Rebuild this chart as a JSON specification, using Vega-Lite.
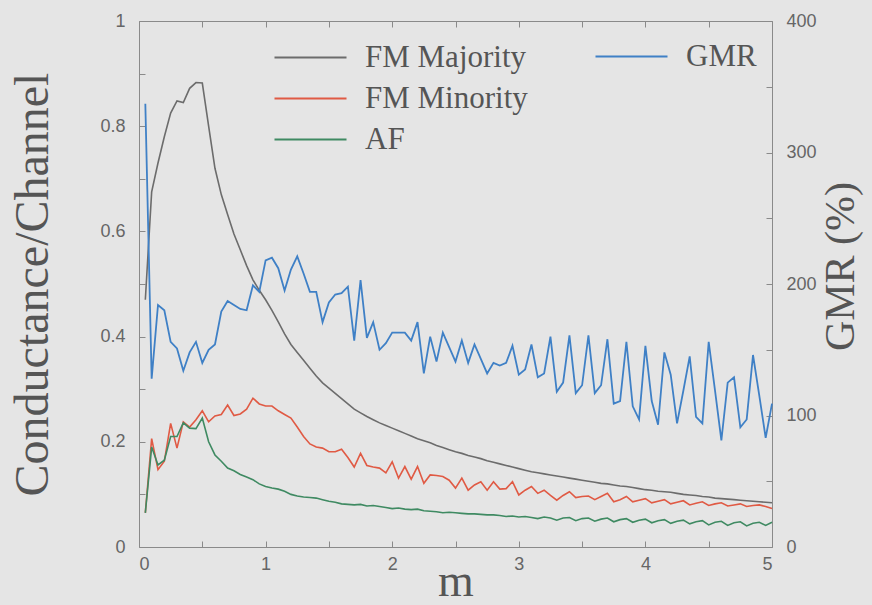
{
  "$schema": "https://vega.github.io/schema/vega-lite/v6.json",
  "width": 633,
  "height": 526,
  "autosize": {"type": "none"},
  "padding": {"left": 139, "top": 21, "right": 100, "bottom": 58},
  "background": "#e5e5e5",
  "config": {
    "view": {"stroke": "#8a8a8a", "strokeWidth": 1},
    "axis": {
      "domain": false,
      "grid": false,
      "tickColor": "#8a8a8a",
      "tickSize": -6,
      "labelFont": "Liberation Sans",
      "labelFontSize": 18,
      "labelColor": "#666666",
      "titleFont": "Liberation Serif",
      "titleFontSize": 48,
      "titleColor": "#555555",
      "titleFontWeight": "normal"
    },
    "legend": {
      "orient": "none",
      "padding": 0,
      "symbolType": "M-1,0H5",
      "symbolSize": 576,
      "symbolStrokeWidth": 2,
      "labelFont": "Liberation Serif",
      "labelFontSize": 31,
      "labelColor": "#555555",
      "labelOffset": 63,
      "labelLimit": 0,
      "rowPadding": 9
    }
  },
  "datasets": {
    "d": [
      {"m": 0.05, "maj": 0.47, "min": 0.065, "af": 0.065, "gmr": 337},
      {"m": 0.1, "maj": 0.675, "min": 0.206, "af": 0.19, "gmr": 128},
      {"m": 0.15, "maj": 0.73, "min": 0.147, "af": 0.156, "gmr": 184},
      {"m": 0.2, "maj": 0.78, "min": 0.163, "af": 0.165, "gmr": 180},
      {"m": 0.25, "maj": 0.825, "min": 0.235, "af": 0.21, "gmr": 156},
      {"m": 0.3, "maj": 0.848, "min": 0.188, "af": 0.21, "gmr": 151},
      {"m": 0.35, "maj": 0.845, "min": 0.238, "af": 0.236, "gmr": 134},
      {"m": 0.4, "maj": 0.872, "min": 0.228, "af": 0.226, "gmr": 148},
      {"m": 0.45, "maj": 0.883, "min": 0.242, "af": 0.225, "gmr": 156},
      {"m": 0.5, "maj": 0.882, "min": 0.259, "af": 0.245, "gmr": 140},
      {"m": 0.55, "maj": 0.8, "min": 0.238, "af": 0.2, "gmr": 150},
      {"m": 0.6, "maj": 0.72, "min": 0.249, "af": 0.175, "gmr": 154},
      {"m": 0.65, "maj": 0.67, "min": 0.252, "af": 0.163, "gmr": 179},
      {"m": 0.7, "maj": 0.632, "min": 0.27, "af": 0.15, "gmr": 187},
      {"m": 0.75, "maj": 0.595, "min": 0.25, "af": 0.145, "gmr": 184},
      {"m": 0.8, "maj": 0.565, "min": 0.253, "af": 0.138, "gmr": 181},
      {"m": 0.85, "maj": 0.535, "min": 0.262, "af": 0.133, "gmr": 180},
      {"m": 0.9, "maj": 0.508, "min": 0.283, "af": 0.128, "gmr": 199},
      {"m": 0.95, "maj": 0.488, "min": 0.272, "af": 0.12, "gmr": 194},
      {"m": 1.0, "maj": 0.47, "min": 0.268, "af": 0.115, "gmr": 218},
      {"m": 1.05, "maj": 0.45, "min": 0.268, "af": 0.112, "gmr": 220},
      {"m": 1.1, "maj": 0.428, "min": 0.259, "af": 0.11, "gmr": 212},
      {"m": 1.15, "maj": 0.405, "min": 0.252, "af": 0.106, "gmr": 195},
      {"m": 1.2, "maj": 0.385, "min": 0.245, "af": 0.1, "gmr": 211},
      {"m": 1.25, "maj": 0.37, "min": 0.228, "af": 0.097, "gmr": 221},
      {"m": 1.3, "maj": 0.355, "min": 0.21, "af": 0.095, "gmr": 208},
      {"m": 1.35, "maj": 0.34, "min": 0.196, "af": 0.094, "gmr": 194},
      {"m": 1.4, "maj": 0.325, "min": 0.19, "af": 0.093, "gmr": 194},
      {"m": 1.45, "maj": 0.312, "min": 0.188, "af": 0.09, "gmr": 171},
      {"m": 1.5, "maj": 0.302, "min": 0.181, "af": 0.087, "gmr": 186},
      {"m": 1.55, "maj": 0.292, "min": 0.181, "af": 0.085, "gmr": 192},
      {"m": 1.6, "maj": 0.282, "min": 0.186, "af": 0.082, "gmr": 193},
      {"m": 1.65, "maj": 0.272, "min": 0.17, "af": 0.081, "gmr": 198},
      {"m": 1.7, "maj": 0.262, "min": 0.152, "af": 0.08, "gmr": 157},
      {"m": 1.75, "maj": 0.255, "min": 0.178, "af": 0.081, "gmr": 203},
      {"m": 1.8, "maj": 0.248, "min": 0.155, "af": 0.078, "gmr": 159},
      {"m": 1.85, "maj": 0.242, "min": 0.152, "af": 0.079, "gmr": 171},
      {"m": 1.9, "maj": 0.236, "min": 0.15, "af": 0.077, "gmr": 150},
      {"m": 1.95, "maj": 0.231, "min": 0.141, "af": 0.075, "gmr": 155},
      {"m": 2.0, "maj": 0.226, "min": 0.162, "af": 0.073, "gmr": 163},
      {"m": 2.05, "maj": 0.221, "min": 0.131, "af": 0.074, "gmr": 163},
      {"m": 2.1, "maj": 0.216, "min": 0.153, "af": 0.072, "gmr": 163},
      {"m": 2.15, "maj": 0.211, "min": 0.129, "af": 0.071, "gmr": 157},
      {"m": 2.2, "maj": 0.206, "min": 0.153, "af": 0.072, "gmr": 171},
      {"m": 2.25, "maj": 0.202, "min": 0.121, "af": 0.069, "gmr": 132},
      {"m": 2.3, "maj": 0.198, "min": 0.137, "af": 0.068, "gmr": 160},
      {"m": 2.35, "maj": 0.193, "min": 0.136, "af": 0.067, "gmr": 141},
      {"m": 2.4, "maj": 0.189, "min": 0.134, "af": 0.065, "gmr": 163},
      {"m": 2.45, "maj": 0.185, "min": 0.127, "af": 0.066, "gmr": 152},
      {"m": 2.5, "maj": 0.181, "min": 0.112, "af": 0.065, "gmr": 141},
      {"m": 2.55, "maj": 0.178, "min": 0.131, "af": 0.064, "gmr": 157},
      {"m": 2.6, "maj": 0.174, "min": 0.108, "af": 0.063, "gmr": 140},
      {"m": 2.65, "maj": 0.171, "min": 0.118, "af": 0.063, "gmr": 154},
      {"m": 2.7, "maj": 0.168, "min": 0.124, "af": 0.062, "gmr": 143},
      {"m": 2.75, "maj": 0.164, "min": 0.108, "af": 0.061, "gmr": 132},
      {"m": 2.8, "maj": 0.161, "min": 0.124, "af": 0.061, "gmr": 140},
      {"m": 2.85, "maj": 0.158, "min": 0.11, "af": 0.06, "gmr": 138},
      {"m": 2.9, "maj": 0.155, "min": 0.111, "af": 0.058, "gmr": 140},
      {"m": 2.95, "maj": 0.152, "min": 0.124, "af": 0.059, "gmr": 153},
      {"m": 3.0, "maj": 0.149, "min": 0.099, "af": 0.057, "gmr": 131},
      {"m": 3.05, "maj": 0.146, "min": 0.108, "af": 0.058, "gmr": 135},
      {"m": 3.1, "maj": 0.143, "min": 0.115, "af": 0.056, "gmr": 154},
      {"m": 3.15, "maj": 0.141, "min": 0.102, "af": 0.054, "gmr": 129},
      {"m": 3.2, "maj": 0.139, "min": 0.108, "af": 0.057, "gmr": 132},
      {"m": 3.25, "maj": 0.137, "min": 0.098, "af": 0.055, "gmr": 160},
      {"m": 3.3, "maj": 0.135, "min": 0.089, "af": 0.051, "gmr": 118},
      {"m": 3.35, "maj": 0.133, "min": 0.098, "af": 0.055, "gmr": 125},
      {"m": 3.4, "maj": 0.131, "min": 0.105, "af": 0.056, "gmr": 161},
      {"m": 3.45, "maj": 0.129, "min": 0.094, "af": 0.05, "gmr": 117},
      {"m": 3.5, "maj": 0.127, "min": 0.096, "af": 0.054, "gmr": 123},
      {"m": 3.55, "maj": 0.125, "min": 0.097, "af": 0.055, "gmr": 161},
      {"m": 3.6, "maj": 0.123, "min": 0.09, "af": 0.049, "gmr": 117},
      {"m": 3.65, "maj": 0.121, "min": 0.096, "af": 0.053, "gmr": 123},
      {"m": 3.7, "maj": 0.12, "min": 0.102, "af": 0.055, "gmr": 158},
      {"m": 3.75, "maj": 0.118, "min": 0.086, "af": 0.048, "gmr": 109},
      {"m": 3.8, "maj": 0.116, "min": 0.09, "af": 0.052, "gmr": 111},
      {"m": 3.85, "maj": 0.115, "min": 0.096, "af": 0.054, "gmr": 156},
      {"m": 3.9, "maj": 0.113, "min": 0.086, "af": 0.047, "gmr": 107},
      {"m": 3.95, "maj": 0.111, "min": 0.089, "af": 0.051, "gmr": 97},
      {"m": 4.0, "maj": 0.109, "min": 0.092, "af": 0.053, "gmr": 153},
      {"m": 4.05, "maj": 0.108, "min": 0.084, "af": 0.046, "gmr": 111},
      {"m": 4.1, "maj": 0.106, "min": 0.087, "af": 0.05, "gmr": 93},
      {"m": 4.15, "maj": 0.105, "min": 0.09, "af": 0.052, "gmr": 148},
      {"m": 4.2, "maj": 0.104, "min": 0.082, "af": 0.045, "gmr": 131},
      {"m": 4.25, "maj": 0.102, "min": 0.085, "af": 0.049, "gmr": 94},
      {"m": 4.3, "maj": 0.1, "min": 0.088, "af": 0.051, "gmr": 119},
      {"m": 4.35, "maj": 0.099, "min": 0.08, "af": 0.044, "gmr": 145},
      {"m": 4.4, "maj": 0.098, "min": 0.083, "af": 0.048, "gmr": 99},
      {"m": 4.45, "maj": 0.096, "min": 0.086, "af": 0.05, "gmr": 94},
      {"m": 4.5, "maj": 0.095, "min": 0.079, "af": 0.042, "gmr": 156},
      {"m": 4.55, "maj": 0.093, "min": 0.082, "af": 0.047, "gmr": 119},
      {"m": 4.6, "maj": 0.092, "min": 0.084, "af": 0.049, "gmr": 81},
      {"m": 4.65, "maj": 0.091, "min": 0.078, "af": 0.041, "gmr": 125},
      {"m": 4.7, "maj": 0.09, "min": 0.08, "af": 0.046, "gmr": 129},
      {"m": 4.75, "maj": 0.089, "min": 0.082, "af": 0.048, "gmr": 91},
      {"m": 4.8, "maj": 0.088, "min": 0.077, "af": 0.04, "gmr": 97},
      {"m": 4.85, "maj": 0.087, "min": 0.079, "af": 0.045, "gmr": 146},
      {"m": 4.9, "maj": 0.086, "min": 0.08, "af": 0.047, "gmr": 115},
      {"m": 4.95, "maj": 0.085, "min": 0.077, "af": 0.041, "gmr": 83},
      {"m": 5.0, "maj": 0.084, "min": 0.073, "af": 0.047, "gmr": 109}
    ]
  },
  "data": {"name": "d"},
  "layer": [
    {
      "transform": [{"fold": ["maj", "min", "af"], "as": ["series", "v"]}],
      "mark": {"type": "line", "strokeWidth": 1.6},
      "encoding": {
        "x": {
          "field": "m", "type": "quantitative",
          "scale": {"domain": [0, 5], "nice": false},
          "axis": {
            "orient": "bottom",
            "values": [0, 0.5, 1, 1.5, 2, 2.5, 3, 3.5, 4, 4.5, 5],
            "format": "~g",
            "labelExpr": "datum.value % 1 == 0 ? datum.label : ''",
            "labelPadding": 14,
            "title": "m",
            "titleFontSize": 46,
            "titlePadding": -14
          }
        },
        "y": {
          "field": "v", "type": "quantitative",
          "scale": {"domain": [0, 1], "nice": false},
          "axis": {
            "orient": "left",
            "values": [0, 0.1, 0.2, 0.3, 0.4, 0.5, 0.6, 0.7, 0.8, 0.9, 1],
            "format": "~g",
            "labelExpr": "round(datum.value * 10) % 2 == 0 ? datum.label : ''",
            "labelPadding": 20,
            "title": "Conductance/Channel",
            "titlePadding": 42
          }
        },
        "color": {
          "field": "series", "type": "nominal",
          "scale": {"domain": ["maj", "min", "af"], "range": ["#6c6c6c", "#e05a44", "#3f8a62"]},
          "legend": {
            "title": null,
            "legendX": 132,
            "legendY": 21,
            "labelExpr": "datum.label == 'maj' ? 'FM Majority' : datum.label == 'min' ? 'FM Minority' : 'AF'"
          }
        }
      }
    },
    {
      "mark": {"type": "line", "strokeWidth": 1.8, "color": "#3f80c6"},
      "encoding": {
        "x": {
          "field": "m", "type": "quantitative",
          "axis": {
            "orient": "top",
            "values": [0, 0.5, 1, 1.5, 2, 2.5, 3, 3.5, 4, 4.5, 5],
            "labels": false,
            "title": null
          }
        },
        "y": {
          "field": "gmr", "type": "quantitative",
          "scale": {"domain": [0, 400], "nice": false},
          "axis": {
            "orient": "right",
            "values": [0, 50, 100, 150, 200, 250, 300, 350, 400],
            "labelExpr": "datum.value % 100 == 0 ? datum.label : ''",
            "labelPadding": 20,
            "title": "GMR (%)",
            "titleFontSize": 42,
            "titleAngle": 270,
            "titleY": 245,
            "titlePadding": 46
          }
        },
        "color": {
          "datum": "GMR", "type": "nominal",
          "scale": {"domain": ["GMR"], "range": ["#3f80c6"]},
          "legend": {"title": null, "legendX": 453, "legendY": 20}
        }
      }
    }
  ],
  "resolve": {
    "scale": {"y": "independent", "color": "independent"},
    "axis": {"x": "independent"}
  }
}
